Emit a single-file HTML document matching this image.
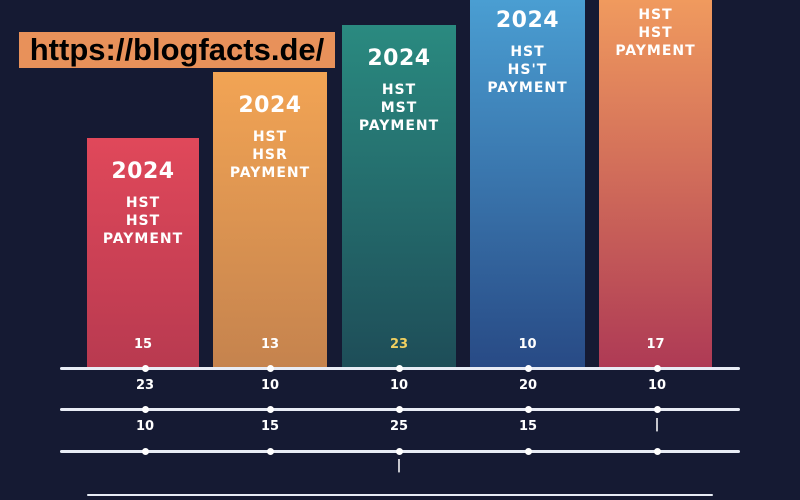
<!DOCTYPE html>
<html><head><style>
body{margin:0;width:800px;height:500px;background:#151a33;position:relative;overflow:hidden;font-family:"DejaVu Sans","Liberation Sans",sans-serif;color:#fff}
.bar{position:absolute;bottom:132px;text-align:center;font-weight:bold}
.bar .y{font-size:22px;margin-top:21px;letter-spacing:0.5px}
.bar .t{font-size:14px;line-height:18px;margin-top:10px;letter-spacing:1px}
.bar .n{position:absolute;bottom:16px;width:100%;font-size:13px}
.ln{position:absolute;left:60px;width:680px;height:3px;background:#e8ecf5;border-radius:2px}
.dot{position:absolute;width:7px;height:7px;border-radius:50%;background:#fff}
.v{position:absolute;font-size:13px;font-weight:bold;width:40px;text-align:center}
</style></head><body>
<div class="bar" style="left:87px;width:112px;top:138px;background:linear-gradient(#e0485a,#b83a50)"><div class="y">2024</div><div class="t">HST<br>HST<br>PAYMENT</div><div class="n">15</div></div>
<div class="bar" style="left:213px;width:114px;top:72px;background:linear-gradient(#f2a454,#c5834e)"><div class="y">2024</div><div class="t">HST<br>HSR<br>PAYMENT</div><div class="n">13</div></div>
<div class="bar" style="left:342px;width:114px;top:25px;background:linear-gradient(#2a8a80,#1e4d58)"><div class="y">2024</div><div class="t">HST<br>MST<br>PAYMENT</div><div class="n" style="color:#f0d060">23</div></div>
<div class="bar" style="left:470px;width:115px;top:0;background:linear-gradient(#4a9ed2,#284a85)"><div class="y" style="margin-top:8px">2024</div><div class="t">HST<br>HS'T<br>PAYMENT</div><div class="n">10</div></div>
<div class="bar" style="left:599px;width:113px;top:0;background:linear-gradient(#f09a5e,#ae3a55)"><div class="t" style="margin-top:6px">HST<br>HST<br>PAYMENT</div><div class="n">17</div></div>
<div style="position:absolute;left:19px;top:32px;width:316px;height:36px;background:#e8915a;color:#000;font-family:'Liberation Sans',sans-serif;font-weight:bold;font-size:31px;line-height:36px;text-align:center;white-space:nowrap">https://blogfacts.de/</div>
<div class="ln" style="top:367px"></div>
<div class="ln" style="top:408px"></div>
<div class="ln" style="top:450px"></div>
<div class="ln" style="top:494px;left:87px;width:626px;height:2px"></div>
<div id="d"></div>
<div class="v" style="left:125px;top:378px">23</div><div class="v" style="left:250px;top:378px">10</div><div class="v" style="left:379px;top:378px">10</div><div class="v" style="left:508px;top:378px">20</div><div class="v" style="left:637px;top:378px">10</div>
<div class="v" style="left:125px;top:419px">10</div><div class="v" style="left:250px;top:419px">15</div><div class="v" style="left:379px;top:419px">25</div><div class="v" style="left:508px;top:419px">15</div><div class="v" style="left:637px;top:417px">|</div>
<div class="v" style="left:379px;top:458px">|</div>
<script>
var xs=[145,270,399,528,657],ys=[368,409,451],h='';
ys.forEach(function(y){xs.forEach(function(x){h+='<div class="dot" style="left:'+(x-3)+'px;top:'+(y-3)+'px"></div>'})});
document.getElementById('d').innerHTML=h;
</script>
</body></html>
